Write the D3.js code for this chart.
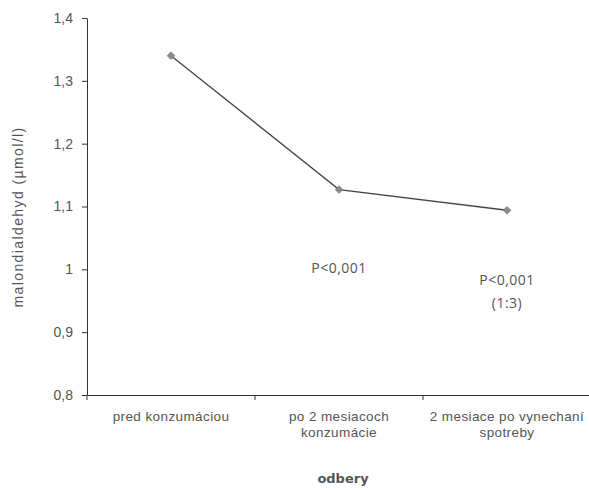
<!DOCTYPE html>
<html>
<head>
<meta charset="utf-8">
<script src="https://cdn.jsdelivr.net/npm/d3@7"></script>
<style>
  body { margin: 0; background: #fff; }
  text { font-family: "Liberation Sans", Arial, sans-serif; fill: #555; }
</style>
</head>
<body>
<svg id="chart" width="589" height="490"></svg>
<script>
var categories = ["pred konzumáciou", "po 2 mesiacoch\nkonzumácie", "2 mesiace po vynechaní\nspotreby"];
var values = [1.34, 1.127, 1.094];
var yTicks = [0.8, 0.9, 1.0, 1.1, 1.2, 1.3, 1.4];
var notes = [null, ["P<0,001"], ["P<0,001", "(1:3)"]];

var margin = {top: 18, right: -2, bottom: 95, left: 87},
    width = 589 - margin.left - margin.right,
    height = 490 - margin.top - margin.bottom;

var svg = d3.select("#chart");
var g = svg.append("g").attr("transform", "translate(" + margin.left + "," + margin.top + ")");

var x = d3.scaleBand().domain(categories).range([0, width]);
var y = d3.scaleLinear().domain([0.8, 1.4]).range([height, 0]);

// y axis
var yAxis = g.append("g")
    .call(d3.axisLeft(y).tickValues(yTicks).tickSize(5).tickSizeOuter(0)
      .tickFormat(function(d){ return d3.format(".1~f")(d).replace(".", ","); }));
yAxis.select(".domain").attr("stroke", "#333");
yAxis.selectAll(".tick line").attr("stroke", "#333");
yAxis.selectAll(".tick text").attr("font-size", 14).attr("fill", "#555")
    .style("font-family", "Liberation Sans, Arial, sans-serif").attr("x", -14);

// x axis
var xAxis = g.append("g").attr("transform", "translate(0," + height + ")")
    .call(d3.axisBottom(x).tickSize(0).tickFormat(""));
xAxis.select(".domain").attr("stroke", "#333");
// tick marks between categories
var bounds = [0].concat(categories.map(function(c){ return x(c) + x.bandwidth(); }));
xAxis.selectAll("line.sep").data(bounds).enter().append("line")
    .attr("x1", function(d){ return d; }).attr("x2", function(d){ return d; })
    .attr("y1", 0).attr("y2", 5).attr("stroke", "#333");

// category labels
categories.forEach(function(c){
  var lines = c.split("\n");
  var t = g.append("text")
      .attr("x", x(c) + x.bandwidth() / 2)
      .attr("y", height + 26)
      .attr("text-anchor", "middle")
      .attr("font-size", 13.5)
      .attr("letter-spacing", 0.4);
  lines.forEach(function(l, i){
    t.append("tspan").attr("x", x(c) + x.bandwidth() / 2).attr("dy", i ? 16 : 0).text(l);
  });
});

// line
var line = d3.line()
    .x(function(d, i){ return x(categories[i]) + x.bandwidth() / 2; })
    .y(function(d){ return y(d); });
g.append("path").datum(values)
    .attr("d", line).attr("fill", "none").attr("stroke", "#444").attr("stroke-width", 1.3);

g.selectAll(".pt").data(values).enter().append("path")
    .attr("class", "pt")
    .attr("d", d3.symbol().type(d3.symbolSquare).size(30))
    .attr("transform", function(d, i){ return "translate(" + (x(categories[i]) + x.bandwidth() / 2) + "," + y(d) + ") rotate(45)"; })
    .attr("fill", "#8a8a8a").attr("stroke", "#777").attr("stroke-width", 0.6);

// P annotations
notes.forEach(function(n, i){
  if (!n) return;
  var cx = x(categories[i]) + x.bandwidth() / 2;
  n.forEach(function(l, j){
    g.append("text")
        .attr("x", cx).attr("y", y(values[i]) + (i === 1 ? 83 : 75) + j * 23)
        .attr("text-anchor", "middle")
        .attr("font-size", 14)
        .attr("letter-spacing", 0.5)
        .style("font-family", "Open Sans, sans-serif")
        .attr("fill", "#444")
        .text(l);
  });
});

// axis titles
svg.append("text")
    .attr("transform", "translate(23," + 217 + ") rotate(-90)")
    .attr("text-anchor", "middle")
    .attr("font-size", 14)
    .attr("letter-spacing", 1.4)
    .attr("fill", "#444")
    .text("malondialdehyd (µmol/l)");

svg.append("text")
    .attr("x", 343).attr("y", 483)
    .attr("text-anchor", "middle")
    .attr("font-size", 13)
    .attr("font-weight", "bold")
    .attr("fill", "#444")
    .style("font-family", "DejaVu Sans, sans-serif")
    .text("odbery");
</script>
</body>
</html>
